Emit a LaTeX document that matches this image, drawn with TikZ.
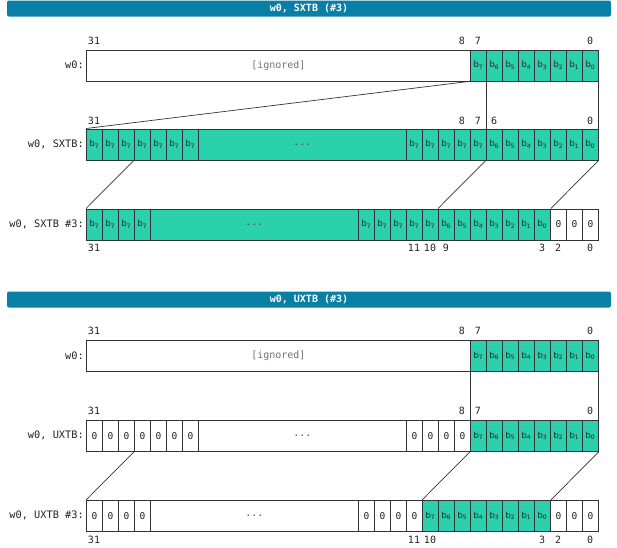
\documentclass[tikz,border=0pt]{standalone}
\usepackage{fontspec}
\setmainfont{DejaVu Sans}
\setsansfont{DejaVu Sans}
\setmonofont{DejaVu Sans Mono}
\definecolor{hdr}{HTML}{0A7FA6}
\definecolor{bitg}{HTML}{2BD0AC}
\definecolor{edge}{HTML}{333333}
\definecolor{txt}{HTML}{222222}
\tikzset{
  bitcell/.style={draw=edge, line width=0.8pt, minimum width=16pt, minimum height=31pt,
    inner sep=0pt, anchor=north west, text=txt},
  gbit/.style={bitcell, fill=bitg, font=\sffamily\fontsize{8.5}{8.5}\selectfont},
  zbit/.style={bitcell, fill=white, font=\ttfamily\fontsize{9.5}{9.5}\selectfont},
  gdots/.style={bitcell, fill=bitg, minimum width=208pt, font=\ttfamily\fontsize{10}{10}\selectfont, text=black!70},
  zdots/.style={bitcell, fill=white, minimum width=208pt, font=\ttfamily\fontsize{10}{10}\selectfont, text=black!70},
  ign/.style={bitcell, fill=white, minimum width=384pt, font=\ttfamily\fontsize{10}{10}\selectfont, text=black!55},
  rowlab/.style={anchor=east, inner sep=0pt, font=\ttfamily\fontsize{10.3}{10.3}\selectfont, text=txt},
  bitnum/.style={inner sep=0pt, font=\ttfamily\fontsize{10}{10}\selectfont, text=txt},
  hdrbar/.style={fill=hdr, rounded corners=2pt, minimum width=604pt, minimum height=16pt,
    inner sep=0pt, text=white, font=\ttfamily\bfseries\fontsize{10}{10}\selectfont},
  map/.style={draw=edge, line width=0.7pt}
}
\newcommand{\bb}[1]{b\textsubscript{#1}}
\begin{document}
\begin{tikzpicture}[x=1pt,y=-1pt]
\useasboundingbox (0,0) rectangle (617,547);
% ---------------- SXTB ----------------
\node[hdrbar] (hdra) at (309,8.5) {w0, SXTB (\#3)};
% w0 row
\node[rowlab] (la1) at (84,65) {w0:};
\node[ign] (tign) at (86,49.5) {[ignored]};
\foreach \k in {7,...,0} {
  \pgfmathsetmacro\xx{86+(31-\k)*16}
  \node[gbit] (tw\k) at (\xx,49.5) {\bb{\k}};
}
\foreach \k in {31,8,7,0} {
  \pgfmathsetmacro\xx{94+(31-\k)*16}
  \node[bitnum] (tn\k) at (\xx,41) {\k};
}
% SXTB row
\node[rowlab] (la2) at (84,144.5) {w0, SXTB:};
\foreach \k in {31,...,25} {
  \pgfmathsetmacro\xx{86+(31-\k)*16}
  \node[gbit] (sx\k) at (\xx,128.5) {\bb{7}};
}
\node[gdots] (sxd) at (198,128.5) {...};
\foreach \k in {11,...,7} {
  \pgfmathsetmacro\xx{86+(31-\k)*16}
  \node[gbit] (sx\k) at (\xx,128.5) {\bb{7}};
}
\foreach \k in {6,...,0} {
  \pgfmathsetmacro\xx{86+(31-\k)*16}
  \node[gbit] (sx\k) at (\xx,128.5) {\bb{\k}};
}
\foreach \k in {31,8,7,6,0} {
  \pgfmathsetmacro\xx{94+(31-\k)*16}
  \node[bitnum] (sn\k) at (\xx,121) {\k};
}
% SXTB #3 row
\node[rowlab] (la3) at (84,224.5) {w0, SXTB \#3:};
\foreach \k in {31,...,28} {
  \pgfmathsetmacro\xx{86+(31-\k)*16}
  \node[gbit] (st\k) at (\xx,208.5) {\bb{7}};
}
\node[gdots] (std) at (150,208.5) {...};
\foreach \k in {14,...,10} {
  \pgfmathsetmacro\xx{86+(31-\k)*16}
  \node[gbit] (st\k) at (\xx,208.5) {\bb{7}};
}
\foreach \k in {9,...,3} {
  \pgfmathsetmacro\xx{86+(31-\k)*16}
  \pgfmathtruncatemacro\bi{\k-3}
  \node[gbit] (st\k) at (\xx,208.5) {\bb{\bi}};
}
\foreach \k in {2,...,0} {
  \pgfmathsetmacro\xx{86+(31-\k)*16}
  \node[zbit] (st\k) at (\xx,208.5) {0};
}
\foreach \k in {31,11,10,9,3,2,0} {
  \pgfmathsetmacro\xx{94+(31-\k)*16}
  \node[bitnum] (stn\k) at (\xx,248) {\k};
}
% mapping lines
\draw[map] (tw7.south west) -- (sx31.north west);
\draw[map] (tw6.south west) -- (sx6.north west);
\draw[map] (tw0.south east) -- (sx0.north east);
\draw[map] (sx28.south west) -- (st31.north west);
\draw[map] (sx6.south west) -- (st9.north west);
\draw[map] (sx0.south east) -- (st3.north east);
% ---------------- UXTB ----------------
\node[hdrbar] (hdrb) at (309,299.5) {w0, UXTB (\#3)};
% w0 row
\node[rowlab] (lb1) at (84,355.5) {w0:};
\node[ign] (bign) at (86,340) {[ignored]};
\foreach \k in {7,...,0} {
  \pgfmathsetmacro\xx{86+(31-\k)*16}
  \node[gbit] (bw\k) at (\xx,340) {\bb{\k}};
}
\foreach \k in {31,8,7,0} {
  \pgfmathsetmacro\xx{94+(31-\k)*16}
  \node[bitnum] (bn\k) at (\xx,331) {\k};
}
% UXTB row
\node[rowlab] (lb2) at (84,435.5) {w0, UXTB:};
\foreach \k in {31,...,25} {
  \pgfmathsetmacro\xx{86+(31-\k)*16}
  \node[zbit] (ux\k) at (\xx,420) {0};
}
\node[zdots] (uxd) at (198,420) {...};
\foreach \k in {11,...,8} {
  \pgfmathsetmacro\xx{86+(31-\k)*16}
  \node[zbit] (ux\k) at (\xx,420) {0};
}
\foreach \k in {7,...,0} {
  \pgfmathsetmacro\xx{86+(31-\k)*16}
  \node[gbit] (ux\k) at (\xx,420) {\bb{\k}};
}
\foreach \k in {31,8,7,0} {
  \pgfmathsetmacro\xx{94+(31-\k)*16}
  \node[bitnum] (un\k) at (\xx,411) {\k};
}
% UXTB #3 row
\node[rowlab] (lb3) at (84,515.5) {w0, UXTB \#3:};
\foreach \k in {31,...,28} {
  \pgfmathsetmacro\xx{86+(31-\k)*16}
  \node[zbit] (ut\k) at (\xx,500) {0};
}
\node[zdots] (utd) at (150,500) {...};
\foreach \k in {14,...,11} {
  \pgfmathsetmacro\xx{86+(31-\k)*16}
  \node[zbit] (ut\k) at (\xx,500) {0};
}
\foreach \k in {10,...,3} {
  \pgfmathsetmacro\xx{86+(31-\k)*16}
  \pgfmathtruncatemacro\bi{\k-3}
  \node[gbit] (ut\k) at (\xx,500) {\bb{\bi}};
}
\foreach \k in {2,...,0} {
  \pgfmathsetmacro\xx{86+(31-\k)*16}
  \node[zbit] (ut\k) at (\xx,500) {0};
}
\foreach \k in {31,11,10,3,2,0} {
  \pgfmathsetmacro\xx{94+(31-\k)*16}
  \node[bitnum] (utn\k) at (\xx,540) {\k};
}
% mapping lines
\draw[map] (bw7.south west) -- (ux7.north west);
\draw[map] (bw0.south east) -- (ux0.north east);
\draw[map] (ux28.south west) -- (ut31.north west);
\draw[map] (ux7.south west) -- (ut10.north west);
\draw[map] (ux0.south east) -- (ut3.north east);
\end{tikzpicture}
\end{document}
